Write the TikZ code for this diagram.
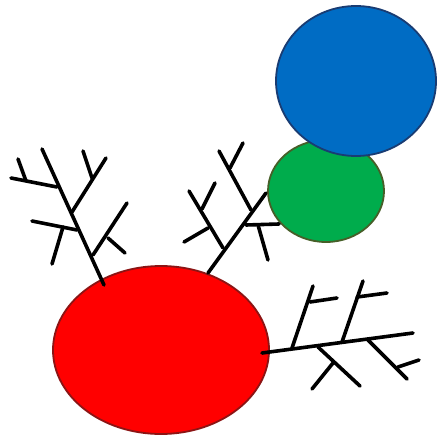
\documentclass[tikz,border=0pt]{standalone}
\definecolor{redfill}{RGB}{255,0,0}
\definecolor{redline}{RGB}{140,20,20}
\definecolor{bluefill}{RGB}{0,108,196}
\definecolor{blueline}{RGB}{25,60,115}
\definecolor{greenfill}{RGB}{0,172,76}
\definecolor{greenline}{RGB}{70,95,40}
\tikzset{
  twig/.style={line width=3.6pt, line cap=round, black},
  blob/.style={line width=1.8pt}
}
\begin{document}
\begin{tikzpicture}[x=1pt,y=-1pt]
\useasboundingbox (0,0) rectangle (442,443);
\fill[white] (0,0) rectangle (442,443);
% shapes
\filldraw[blob, fill=redfill, draw=redline] (161,350) ellipse [x radius=108, y radius=84];
\filldraw[blob, fill=greenfill, draw=greenline] (326,191) ellipse [x radius=58, y radius=51];
\filldraw[blob, fill=bluefill, draw=blueline] (356,81) ellipse [x radius=80, y radius=75];
% left tree
\draw[twig] (104,285) -- (42,149);
\draw[twig] (72,212) -- (106,158);
\draw[twig] (92,178) -- (83,151);
\draw[twig] (57,187) -- (11,178);
\draw[twig] (26,181) -- (18,159);
\draw[twig] (77,230) -- (32,221);
\draw[twig] (63,227) -- (52,264);
\draw[twig] (93,255) -- (127,203);
\draw[twig] (108,238) -- (125,253);
% middle tree
\draw[twig] (208,273) -- (266,193);
\draw[twig] (246,225) -- (279,224);
\draw[twig] (258,225) -- (268,260);
\draw[twig] (223,248) -- (189,191);
\draw[twig] (202,209) -- (215,183);
\draw[twig] (208,228) -- (184,242);
\draw[twig] (251,210) -- (219,151);
\draw[twig] (230,168) -- (243,143);
% right tree
\draw[twig] (262,353) -- (413,333);
\draw[twig] (292,348) -- (313,286);
\draw[twig] (310,302) -- (337,298);
\draw[twig] (342,342) -- (363,281);
\draw[twig] (357,297) -- (387,293);
\draw[twig] (318,347) -- (360,386);
\draw[twig] (333,363) -- (312,389);
\draw[twig] (368,340) -- (407,379);
\draw[twig] (398,367) -- (419,360);
\end{tikzpicture}
\end{document}
